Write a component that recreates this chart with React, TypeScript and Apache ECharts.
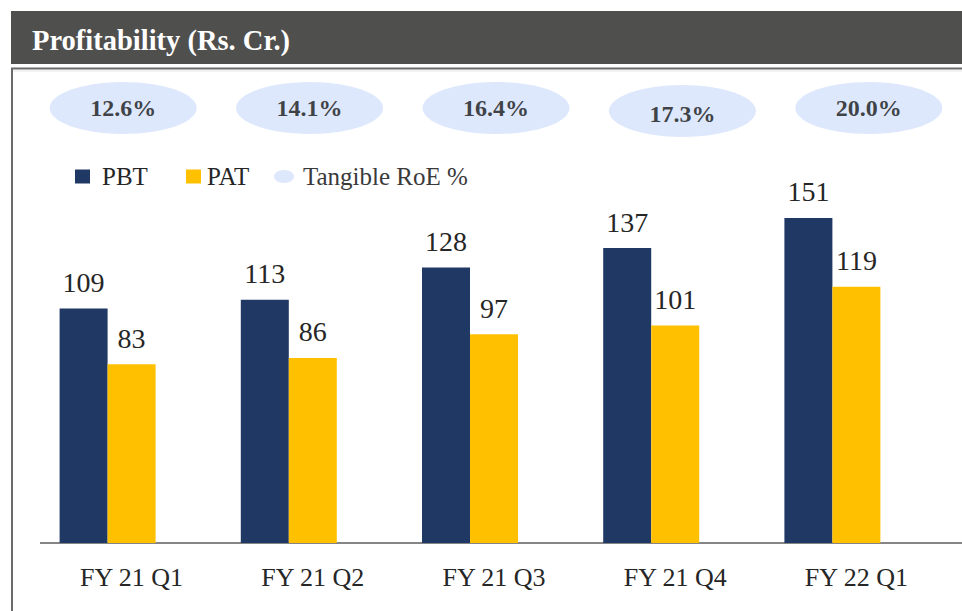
import React, { useEffect, useRef } from "react";
import * as echarts from "echarts";

const categories = ["FY 21 Q1", "FY 21 Q2", "FY 21 Q3", "FY 21 Q4", "FY 22 Q1"];
const pbt = [109, 113, 128, 137, 151];
const pat = [83, 86, 97, 101, 119];
const roe = [12.6, 14.1, 16.4, 17.3, 20.0];
const title = "Profitability (Rs. Cr.)";

const FONT = '"Liberation Serif", "Times New Roman", serif';
const ELLIPSE =
  "path://M50,0 C77.6,0 100,22.4 100,50 C100,77.6 77.6,100 50,100 C22.4,100 0,77.6 0,50 C0,22.4 22.4,0 50,0 Z";

export default function App() {
  const ref = useRef<HTMLDivElement>(null);

  useEffect(() => {
    if (!ref.current) return;
    const chart = echarts.init(ref.current, null, { renderer: "svg" });
    const labelStyle = {
      show: true,
      position: "top" as const,
      distance: 12,
      fontFamily: FONT,
      fontSize: 28,
      color: "#262626",
    };
    chart.setOption({
      animation: false,
      backgroundColor: "#ffffff",
      grid: [
        { left: 41, right: 15, top: 198.6, bottom: 68 },
        { left: 30, width: 948, top: 82, height: 52 },
      ],
      xAxis: [
        {
          type: "category",
          gridIndex: 0,
          data: categories,
          axisLine: { show: false },
          axisTick: { show: false },
          axisLabel: {
            fontFamily: FONT,
            fontSize: 26,
            color: "#262626",
            margin: 21,
          },
        },
        { type: "category", gridIndex: 1, data: categories, show: false },
      ],
      yAxis: [
        { type: "value", gridIndex: 0, min: 0, max: 160, show: false, splitLine: { show: false } },
        { type: "category", gridIndex: 1, data: ["RoE"], show: false },
      ],
      legend: [
        {
          left: 75,
          top: 164,
          padding: 0,
          selectedMode: false,
          itemWidth: 15,
          itemHeight: 14,
          data: [{ name: "PBT", icon: "rect" }],
          textStyle: { fontFamily: FONT, fontSize: 25, color: "#262626", padding: [0, 0, 0, 7] },
        },
        {
          left: 186,
          top: 164,
          padding: 0,
          selectedMode: false,
          itemWidth: 15,
          itemHeight: 14,
          data: [{ name: "PAT", icon: "rect" }],
          textStyle: { fontFamily: FONT, fontSize: 25, color: "#262626", padding: [0, 0, 0, 1] },
        },
        {
          left: 274,
          top: 164,
          padding: 0,
          selectedMode: false,
          symbolKeepAspect: false,
          itemWidth: 20,
          itemHeight: 13,
          data: [{ name: "Tangible RoE %", icon: ELLIPSE }],
          textStyle: { fontFamily: FONT, fontSize: 25, color: "#3a3a3a", padding: [0, 0, 0, 4] },
        },
      ],
      graphic: [
        {
          type: "rect",
          shape: { x: 11, y: 11, width: 951, height: 53 },
          style: { fill: "#4f4f4e" },
          silent: true,
        },
        {
          type: "text",
          x: 32,
          y: 40,
          style: {
            text: title,
            fill: "#ffffff",
            fontFamily: FONT,
            fontWeight: "bold",
            fontSize: 28.5,
            verticalAlign: "middle",
          },
          silent: true,
        },
        {
          type: "line",
          shape: { x1: 11, y1: 68.5, x2: 962, y2: 68.5 },
          style: { stroke: "#6a6a6a", lineWidth: 2 },
          silent: true,
        },
        {
          type: "line",
          shape: { x1: 11, y1: 71, x2: 962, y2: 71 },
          style: { stroke: "#e6e6e6", lineWidth: 1 },
          silent: true,
        },
        {
          type: "line",
          shape: { x1: 12, y1: 68, x2: 12, y2: 611 },
          style: { stroke: "#6a6a6a", lineWidth: 2 },
          silent: true,
        },
        {
          type: "line",
          shape: { x1: 40, y1: 543, x2: 962, y2: 543 },
          style: { stroke: "#858585", lineWidth: 2 },
          silent: true,
        },
      ],
      series: [
        {
          name: "PBT",
          type: "bar",
          xAxisIndex: 0,
          yAxisIndex: 0,
          data: pbt,
          barWidth: 48,
          barGap: "0%",
          itemStyle: { color: "#203864" },
          label: labelStyle,
        },
        {
          name: "PAT",
          type: "bar",
          xAxisIndex: 0,
          yAxisIndex: 0,
          data: pat,
          barWidth: 48,
          barGap: "0%",
          itemStyle: { color: "#FFC000" },
          label: labelStyle,
        },
        {
          name: "spacer",
          type: "bar",
          xAxisIndex: 0,
          yAxisIndex: 0,
          data: [],
          barWidth: 48,
          barGap: "0%",
          silent: true,
        },
        {
          name: "Tangible RoE %",
          type: "scatter",
          xAxisIndex: 1,
          yAxisIndex: 1,
          symbol: ELLIPSE,
          symbolSize: [147, 52],
          itemStyle: { color: "#D4E2FB" },
          data: roe.map((v, i) =>
            i === 3
              ? { value: [i, 0, v], symbolOffset: [0, 3], label: { offset: [0, 3] } }
              : { value: [i, 0, v] }
          ),
          label: {
            show: true,
            position: "inside",
            formatter: (p: any) => p.value[2].toFixed(1) + "%",
            fontFamily: FONT,
            fontWeight: "bold",
            fontSize: 24,
            color: "#141414",
          },
          z: 3,
        },
      ],
    });
    return () => chart.dispose();
  }, []);

  return (
    <div
      ref={ref}
      style={{ position: "fixed", left: 0, top: 0, width: 962, height: 611 }}
    />
  );
}
